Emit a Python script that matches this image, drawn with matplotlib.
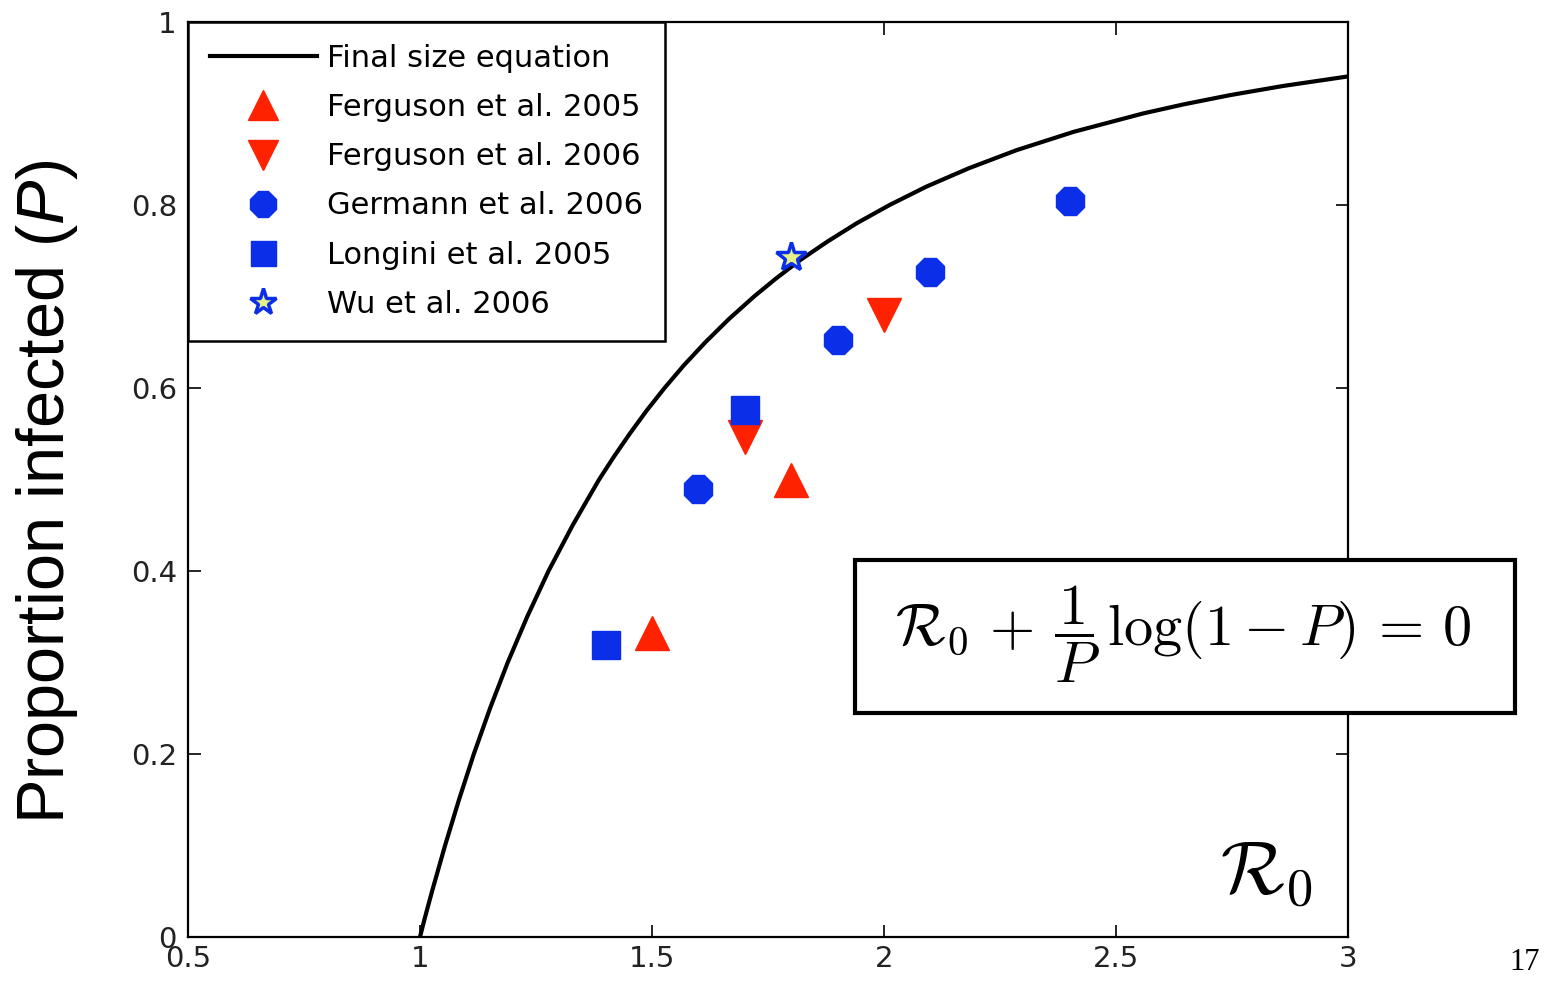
import matplotlib
matplotlib.use("Agg")
import matplotlib.pyplot as plt
from matplotlib.patches import Rectangle

# ---------------------------------------------------------------------------
# Data
# ---------------------------------------------------------------------------

# final size curve, P vs R0
CURVE_R0 = [1.000, 1.010, 1.026, 1.054, 1.084, 1.116, 1.151, 1.189, 1.231,
            1.277, 1.329, 1.386, 1.418, 1.452, 1.488, 1.527, 1.569, 1.615,
            1.665, 1.720, 1.768, 1.820, 1.878, 1.941, 2.012, 2.091, 2.182,
            2.286, 2.409, 2.558, 2.646, 2.745, 2.859, 2.993, 3.000]
CURVE_P  = [0.000, 0.020, 0.050, 0.100, 0.150, 0.200, 0.250, 0.300, 0.350,
            0.400, 0.450, 0.500, 0.525, 0.550, 0.575, 0.600, 0.625, 0.650,
            0.675, 0.700, 0.720, 0.740, 0.760, 0.780, 0.800, 0.820, 0.840,
            0.860, 0.880, 0.900, 0.910, 0.920, 0.930, 0.940, 0.9405]

FERG05_R0 = [1.5, 1.8]
FERG05_P  = [0.332, 0.500]
FERG06_R0 = [1.7, 2.0]
FERG06_P  = [0.546, 0.680]
GERM06_R0 = [1.6, 1.9, 2.1, 2.4]
GERM06_P  = [0.490, 0.652, 0.727, 0.804]
LONG05_R0 = [1.4, 1.7]
LONG05_P  = [0.319, 0.576]
WU06_R0   = [1.8]
WU06_P    = [0.743]

X_TICKS = [0.5, 1, 1.5, 2, 2.5, 3]
X_TICKLABELS = ["0.5", "1", "1.5", "2", "2.5", "3"]
Y_TICKS = [0, 0.2, 0.4, 0.6, 0.8, 1]
Y_TICKLABELS = ["0", "0.2", "0.4", "0.6", "0.8", "1"]

RED  = "#ff2200"
BLUE = "#0b2ee8"

# ---------------------------------------------------------------------------
# Plot
# ---------------------------------------------------------------------------

plt.rcParams["mathtext.fontset"] = "cm"
plt.rcParams["mathtext.it"] = "Liberation Sans:italic"
plt.rcParams["mathtext.rm"] = "Liberation Sans"

W, H = 1548, 982
fig = plt.figure(figsize=(W / 100, H / 100), dpi=100)
ax = fig.add_axes([188 / W, 1 - 937 / H, 1160 / W, 915 / H])

ax.plot(CURVE_R0, CURVE_P, color="black", lw=3, label="Final size equation",
        solid_joinstyle="round", zorder=2)
ax.plot(FERG05_R0, FERG05_P, ls="none", marker="^", ms=24, color=RED, mec=RED,
        label="Ferguson et al. 2005", zorder=3)
ax.plot(FERG06_R0, FERG06_P, ls="none", marker="v", ms=24, color=RED, mec=RED,
        label="Ferguson et al. 2006", zorder=3)
ax.plot(GERM06_R0, GERM06_P, ls="none", marker="8", ms=22, color=BLUE, mec=BLUE,
        label="Germann et al. 2006", zorder=3)
ax.plot(LONG05_R0, LONG05_P, ls="none", marker="s", ms=20, color=BLUE, mec=BLUE,
        label="Longini et al. 2005", zorder=4)
ax.plot(WU06_R0, WU06_P, ls="none", marker="*", ms=22, mfc="#e6f08a", mec=BLUE,
        mew=2.5, label="Wu et al. 2006", zorder=4)

ax.set_xlim(0.5, 3)
ax.set_ylim(0, 1)
ax.set_xticks(X_TICKS)
ax.set_xticklabels(X_TICKLABELS)
ax.set_yticks(Y_TICKS)
ax.set_yticklabels(Y_TICKLABELS)
ax.tick_params(direction="in", length=9, width=1.2, top=True, right=True,
               labelsize=21, labelcolor="#222222")
ax.tick_params(axis="y", pad=8)
ax.tick_params(axis="x", pad=6)
for s in ax.spines.values():
    s.set_linewidth(1.6)

leg = ax.legend(loc="upper left", bbox_to_anchor=(0, 1), borderaxespad=0,
                fontsize=22, frameon=True, fancybox=False, edgecolor="black",
                handlelength=3.5, handletextpad=0.33, labelspacing=0.66,
                borderpad=0.72, markerscale=0.9, framealpha=1)
leg.get_frame().set_linewidth(1.8)

# y label, large slide font
fig.text(47 / W, 1 - 492 / H, "Proportion infected ($P$)",
         rotation=90, ha="center", va="center", fontsize=48,
         family="Liberation Sans", math_fontfamily="custom")

# equation box (sticks out past the axes)
fig.patches.append(Rectangle((855 / W, 1 - 713 / H), 660 / W, 153 / H,
                             transform=fig.transFigure, fc="white", ec="black",
                             lw=3, zorder=5))
fig.text(1183 / W, 1 - 634 / H,
         r"$\mathcal{R}_0\, +\, \dfrac{1}{P}\,\log(1 - P)\, =\, 0$",
         ha="center", va="center", fontsize=42, zorder=6)

ax.text(0.97, 0.03, r"$\mathcal{R}_0$", transform=ax.transAxes,
        ha="right", va="bottom", fontsize=54)

fig.text(1525 / W, 1 - 962 / H, "17", ha="center", va="center",
         fontsize=22, family="Liberation Serif")

fig.savefig("out.png", dpi=100)
